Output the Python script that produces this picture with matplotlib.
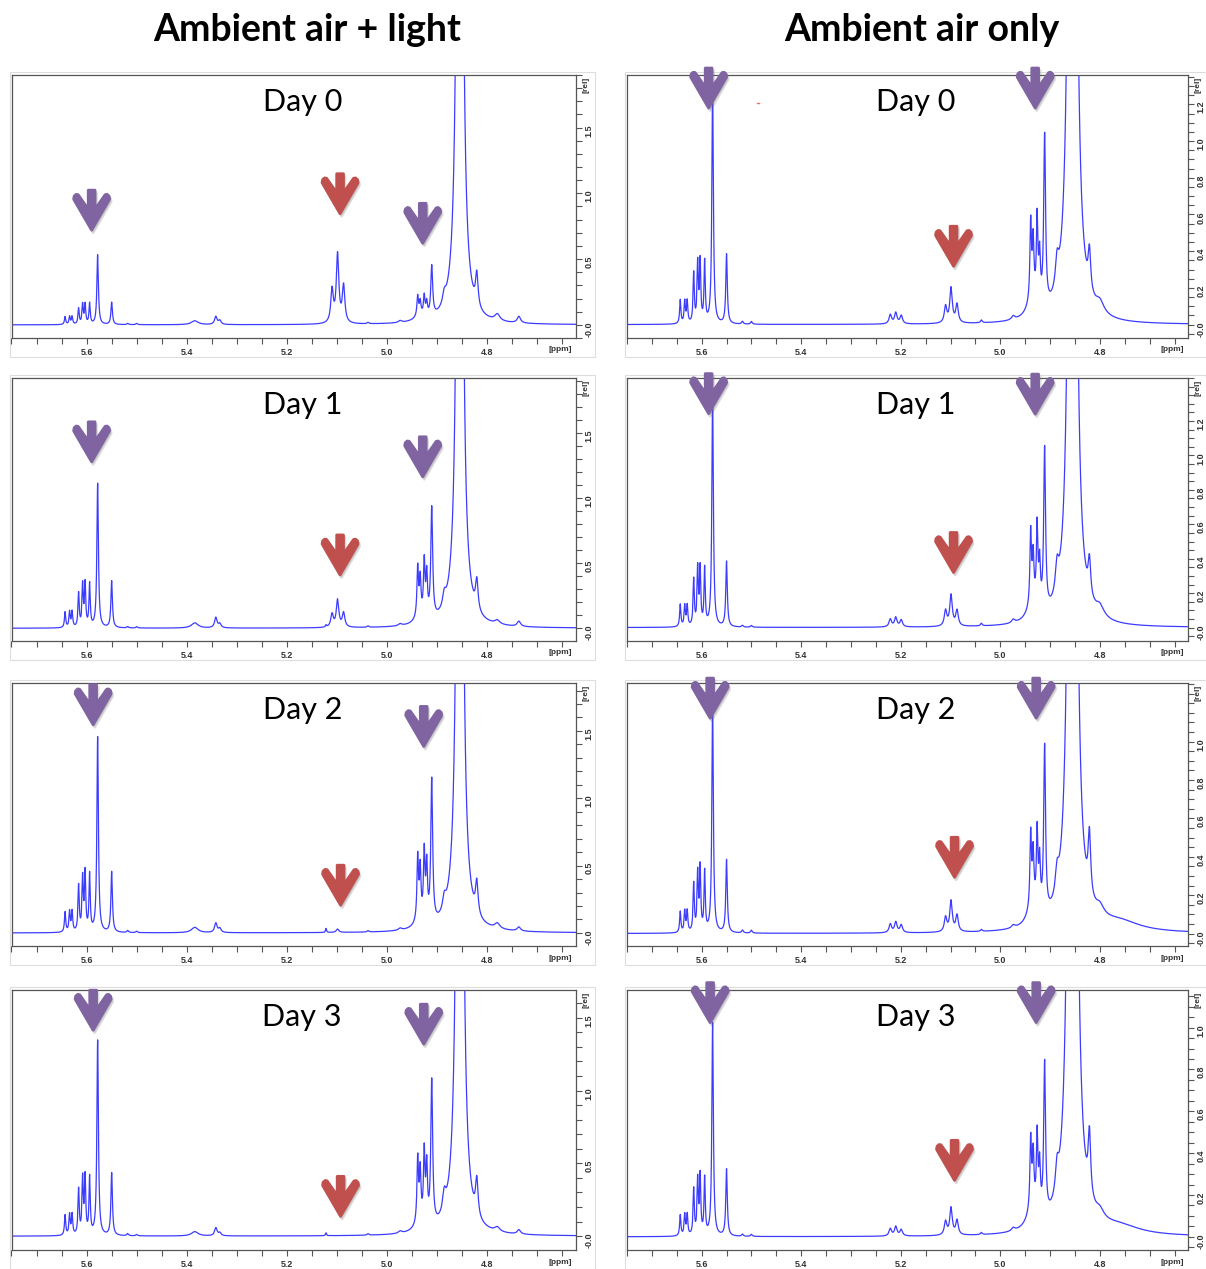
import numpy as np
import matplotlib
matplotlib.use('Agg')
import matplotlib.pyplot as plt
from matplotlib.patches import Polygon, Rectangle
from matplotlib.ticker import MultipleLocator

# peak table shared by all spectra (ppm, half width at half height)
PEAK_PPM = [5.643, 5.634, 5.629, 5.616, 5.608, 5.603, 5.594, 5.578, 5.550, 5.518,
            5.500, 5.384, 5.342, 5.334, 5.221, 5.210, 5.199, 5.110, 5.099, 5.087,
            5.122, 5.038, 4.974, 4.939, 4.934, 4.926, 4.921, 4.911, 4.886, 4.855,
            4.821, 4.800, 4.780, 4.737, 4.935, 4.760]
PEAK_HWHM = [.0015, .0015, .0015, .0015, .0015, .0015, .0015, .0018, .0018, .002,
             .002, .008, .003, .003, .003, .003, .003, .003, .003, .003,
             .0012, .002, .004, .0018, .0018, .0018, .0018, .0022, .004, .004,
             .003, .010, .006, .004, .012, .050]

# peak heights
LIGHT_DAY0 = [0.06, 0.06, 0.06, 0.12, 0.15, 0.15, 0.16, 0.53, 0.17, 0.01,
              0.01, 0.03, 0.06, 0.03, 0, 0, 0, 0.25, 0.52, 0.28,
              0, 0.01, 0.015, 0.15, 0.10, 0.15, 0.10, 0.38, 0.08, 12,
              0.25, 0, 0.05, 0.05, 0.04, 0]
LIGHT_DAY1 = [0.12, 0.12, 0.12, 0.26, 0.32, 0.33, 0.33, 1.11, 0.36, 0.01,
              0.01, 0.04, 0.08, 0.03, 0, 0, 0, 0.10, 0.21, 0.11,
              0.015, 0.01, 0.015, 0.38, 0.28, 0.42, 0.32, 0.85, 0.10, 12,
              0.23, 0, 0.03, 0.04, 0.05, 0]
LIGHT_DAY2 = [0.15, 0.15, 0.15, 0.34, 0.39, 0.43, 0.42, 1.45, 0.45, 0.015,
              0.01, 0.04, 0.07, 0.03, 0, 0, 0, 0, 0.025, 0,
              0.03, 0.01, 0.015, 0.47, 0.37, 0.50, 0.40, 1.06, 0.10, 12,
              0.24, 0, 0.04, 0.03, 0.05, 0]
LIGHT_DAY3 = [0.14, 0.14, 0.14, 0.31, 0.38, 0.39, 0.39, 1.34, 0.43, 0.015,
              0.01, 0.03, 0.055, 0.02, 0, 0, 0, 0, 0, 0,
              0.02, 0.01, 0.015, 0.44, 0.34, 0.48, 0.38, 0.99, 0.13, 12,
              0.25, 0, 0.03, 0.03, 0.05, 0]
DARK_DAY0 = [0.13, 0.12, 0.12, 0.27, 0.32, 0.33, 0.33, 1.30, 0.38, 0.015,
             0.015, 0, 0, 0, 0.05, 0.06, 0.045, 0.09, 0.19, 0.10,
             0, 0.015, 0.02, 0.42, 0.30, 0.45, 0.25, 0.93, 0.15, 15,
             0.22, 0.06, 0, 0, 0.10, 0]
DARK_DAY1 = [0.13, 0.12, 0.12, 0.27, 0.33, 0.33, 0.33, 1.35, 0.38, 0.01,
             0.01, 0, 0, 0, 0.045, 0.055, 0.04, 0.09, 0.18, 0.09,
             0, 0.015, 0.02, 0.42, 0.26, 0.46, 0.25, 0.94, 0.16, 15,
             0.21, 0.06, 0, 0, 0.10, 0]
DARK_DAY2 = [0.11, 0.11, 0.11, 0.25, 0.30, 0.33, 0.31, 1.20, 0.38, 0.015,
             0.015, 0, 0, 0, 0.045, 0.055, 0.04, 0.075, 0.16, 0.085,
             0, 0.01, 0.015, 0.38, 0.26, 0.40, 0.25, 0.87, 0.12, 15,
             0.32, 0.05, 0, 0, 0.10, 0.05]
DARK_DAY3 = [0.10, 0.10, 0.10, 0.22, 0.26, 0.28, 0.27, 1.02, 0.32, 0.01,
             0.01, 0, 0, 0, 0.035, 0.045, 0.03, 0.065, 0.13, 0.07,
             0, 0.01, 0.015, 0.33, 0.24, 0.36, 0.22, 0.73, 0.13, 15,
             0.30, 0.04, 0, 0, 0.10, 0.04]

DAY_LABELS = ['Day 0', 'Day 1', 'Day 2', 'Day 3']
COL_TITLES = ['Ambient air + light', 'Ambient air only']
LIGHT_YLIMS = [(-0.10, 1.90), (-0.098, 1.925), (-0.097, 1.856), (-0.095, 1.69)]
DARK_YLIMS = [(-0.073, 1.36), (-0.078, 1.45), (-0.065, 1.305), (-0.063, 1.18)]

# arrow tips (ppm, intensity): purple, red, purple
LIGHT_ARROWS = [[(5.590, 0.72), (5.094, 0.845), (4.929, 0.62)],
                [(5.590, 1.28), (5.094, 0.41), (4.929, 1.165)],
                [(5.587, 1.546), (5.093, 0.206), (4.927, 1.385)],
                [(5.587, 1.414), (5.093, 0.136), (4.927, 1.318)]]
DARK_ARROWS = [[(5.586, 1.18), (5.094, 0.318), (4.930, 1.18)],
               [(5.586, 1.243), (5.094, 0.32), (4.930, 1.24)],
               [(5.583, 1.122), (5.092, 0.293), (4.928, 1.122)],
               [(5.583, 1.024), (5.092, 0.27), (4.928, 1.024)]]

PURPLE = '#8064A2'
RED = '#C0504D'
LINE_BLUE = '#3c3cff'

W, H = 1206, 1269
fig = plt.figure(figsize=(W / 100, H / 100), dpi=100)
fig.patch.set_facecolor('white')

COL_X = [(11.5, 576), (627, 1188)]
ROW_Y = [(75, 338), (378, 641), (683, 946), (990, 1250)]

# down arrow outline in pixels, tip at the origin
ARROW_SHAPE = [(0, 0), (-18, 31), (-17.5, 34), (-15.5, 35.8), (-13.5, 35.5),
               (-3.4, 21), (-3.4, 40), (3.4, 40), (3.4, 21), (13.5, 35.5),
               (15.5, 35.8), (17.5, 34), (18, 31)]

grid = np.linspace(4.60, 5.77, 8000)


def spectrum(heights):
    y = np.zeros_like(grid)
    for p, w, h in zip(PEAK_PPM, PEAK_HWHM, heights):
        y += h / (1 + ((grid - p) / w) ** 2)
    return y


def fmt(v):
    return '-0.0' if abs(v) < 1e-9 else f'{v:.1f}'


def draw_arrow(ax, ppm, val, color):
    tx, ty = ax.transData.transform((ppm, val))
    for dx, dy, fc, a in [(1.5, -2.5, '#666666', 0.22), (0, 0, color, 1.0)]:
        pts = [(tx + px + dx, ty + py + dy) for px, py in ARROW_SHAPE]
        pts = fig.transFigure.inverted().transform(pts)
        fig.add_artist(Polygon(pts, closed=True, transform=fig.transFigure,
                               fc=fc, ec=fc, lw=2.0, joinstyle='round',
                               alpha=a, zorder=5))


columns = [
    ([LIGHT_DAY0, LIGHT_DAY1, LIGHT_DAY2, LIGHT_DAY3], LIGHT_YLIMS, LIGHT_ARROWS, 0.5, 0.1),
    ([DARK_DAY0, DARK_DAY1, DARK_DAY2, DARK_DAY3], DARK_YLIMS, DARK_ARROWS, 0.2, 0.05),
]
title_x = [307, 922]

for c, (series, ylims, arrows, major, minor) in enumerate(columns):
    x0, x1 = COL_X[c]
    # column title
    fig.text(title_x[c] / W, 1 - 30 / H, COL_TITLES[c], ha='center', va='center',
             fontsize=27, fontweight='bold', family=['Lato', 'DejaVu Sans'])
    for r in range(4):
        y0, y1 = ROW_Y[r]
        ax = fig.add_axes([x0 / W, 1 - y1 / H, (x1 - x0) / W, (y1 - y0) / H])
        ax.plot(grid, spectrum(series[r]), color=LINE_BLUE, lw=0.9)
        ax.set_xlim(5.75, 4.623)
        ax.set_ylim(*ylims[r])

        # x axis
        ax.set_xticks([5.6, 5.4, 5.2, 5.0, 4.8])
        ax.set_xticklabels(['5.6', '5.4', '5.2', '5.0', '4.8'])
        ax.xaxis.set_minor_locator(MultipleLocator(0.05))
        # y axis on the right
        top = ylims[r][1]
        rng = ylims[r][1] - ylims[r][0]
        ticks = np.arange(0, top, major)
        ax.set_yticks(ticks)
        ax.set_yticklabels([fmt(v) if v <= top - 0.09 * rng else '' for v in ticks])
        ax.yaxis.set_minor_locator(MultipleLocator(minor))
        ax.yaxis.tick_right()
        ax.tick_params(axis='both', which='both', direction='out', length=4,
                       width=0.8, color='#555555', labelsize=6.5, labelcolor='#333333')
        ax.tick_params(axis='y', labelrotation=90, pad=2)
        ax.tick_params(axis='x', pad=3)
        for lab in ax.get_xticklabels() + ax.get_yticklabels():
            lab.set_fontweight('bold')
            lab.set_family(['Liberation Sans', 'DejaVu Sans'])
        for sp in ax.spines.values():
            sp.set_color('#555555')
            sp.set_linewidth(0.9)

        ax.text(1.0 + 7 / (x1 - x0), 1.0 - 2 / (y1 - y0), '[rel]', transform=ax.transAxes,
                rotation=90, ha='left', va='top', fontsize=6, fontweight='bold',
                color='#333333', family=['Liberation Sans', 'DejaVu Sans'])
        ax.text(0.972, -12 / (y1 - y0), '[ppm]', transform=ax.transAxes,
                ha='center', va='center', fontsize=6, fontweight='bold',
                color='#333333', family=['Liberation Sans', 'DejaVu Sans'])

        ax.text(0.515, 1 - 27 / (y1 - y0), DAY_LABELS[r], transform=ax.transAxes,
                ha='center', va='center', fontsize=22, family=['Lato', 'DejaVu Sans'])

        # light frame around each pasted panel
        fig.add_artist(Rectangle(((x0 - 2) / W, 1 - (y1 + 19) / H), (x1 - x0 + 21) / W,
                                 (y1 - y0 + 22) / H, transform=fig.transFigure,
                                 fill=False, ec='#dddddd', lw=0.8, zorder=0))

        colors = [PURPLE, RED, PURPLE]
        for (ppm, val), col in zip(arrows[r], colors):
            draw_arrow(ax, ppm, val, col)

        if c == 1 and r == 0:
            ax.plot([5.489, 5.484], [1.21, 1.21], color='#ff6666', lw=1)

fig.savefig('out.png', dpi=100)
